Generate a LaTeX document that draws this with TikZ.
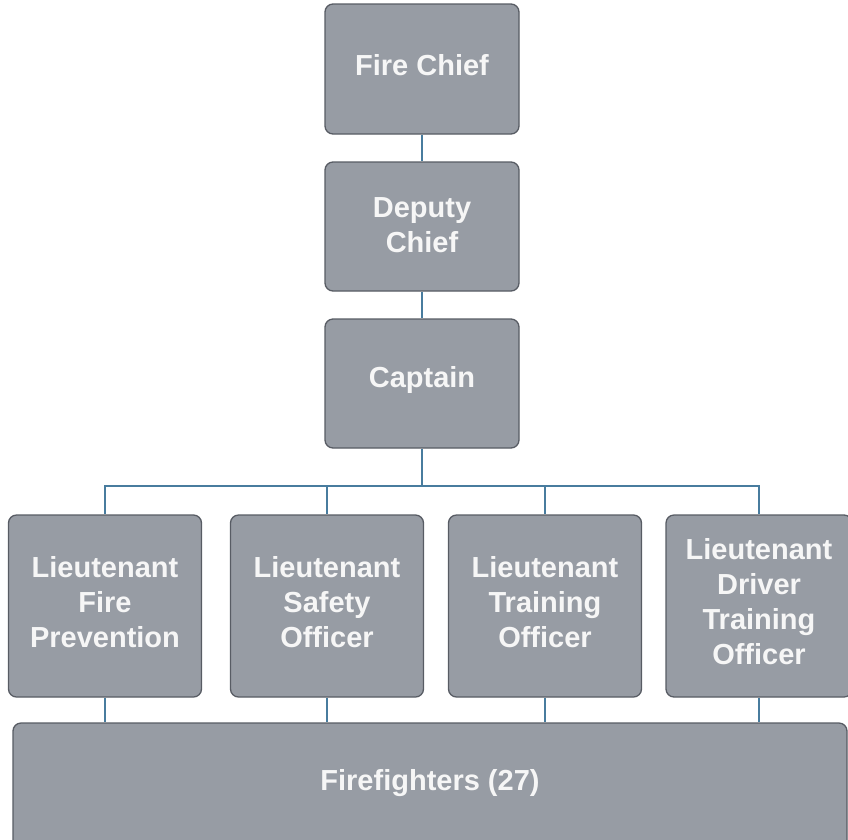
\documentclass[tikz,border=0pt]{standalone}
\usepackage{fontspec}
\setmainfont{Liberation Sans}
\begin{document}
\begin{tikzpicture}[x=1pt,y=-1pt,
  box/.style={draw=boxedge, line width=1.3pt, fill=boxfill, rounded corners=8pt,
    inner sep=0pt},
  lbl/.style={text=boxtext, font=\bfseries\fontsize{29}{35}\selectfont,
    align=center, inner sep=0pt, yshift=4pt},
  link/.style={draw=linkblue, line width=1.8pt}]
\definecolor{boxfill}{RGB}{151,156,164}
\definecolor{boxedge}{RGB}{88,92,100}
\definecolor{boxtext}{RGB}{246,246,246}
\definecolor{linkblue}{RGB}{72,124,158}
\useasboundingbox (0,0) rectangle (848,839);
\clip (0,0) rectangle (848,839);

\node[box, minimum width=194pt, minimum height=130pt,
  label={[lbl]center:Fire Chief}] (chief) at (422,69) {};
\node[box, minimum width=194pt, minimum height=129pt,
  label={[lbl, yshift=-3pt]center:{Deputy\\Chief}}] (deputy) at (422,226.5) {};
\node[box, minimum width=194pt, minimum height=129pt,
  label={[lbl]center:Captain}] (captain) at (422,383.5) {};

\node[box, minimum width=193pt, minimum height=182pt,
  label={[lbl]center:{Lieutenant\\Fire\\Prevention}}] (lt1) at (105,606) {};
\node[box, minimum width=193pt, minimum height=182pt,
  label={[lbl]center:{Lieutenant\\Safety\\Officer}}] (lt2) at (327,606) {};
\node[box, minimum width=193pt, minimum height=182pt,
  label={[lbl]center:{Lieutenant\\Training\\Officer}}] (lt3) at (545,606) {};
\node[box, minimum width=186pt, minimum height=182pt,
  label={[lbl]center:{Lieutenant\\Driver\\Training\\Officer}}] (lt4) at (759,606) {};

\node[box, minimum width=834pt, minimum height=134pt] (ff) at (430,790) {};
\node[lbl] (fflabel) at (430,787) {Firefighters (27)};

\draw[link] (chief.south) -- (deputy.north);
\draw[link] (deputy.south) -- (captain.north);
\coordinate (bus) at (422,486);
\draw[link] (captain.south) -- (bus);
\draw[link] (bus) -| (lt1.north);
\draw[link] (bus) -| (lt2.north);
\draw[link] (bus) -| (lt3.north);
\draw[link] (bus) -| (lt4.north);

\foreach \n in {lt1,lt2,lt3,lt4}
  \draw[link] (\n.south) -- (\n.south |- ff.north);
\end{tikzpicture}
\end{document}
